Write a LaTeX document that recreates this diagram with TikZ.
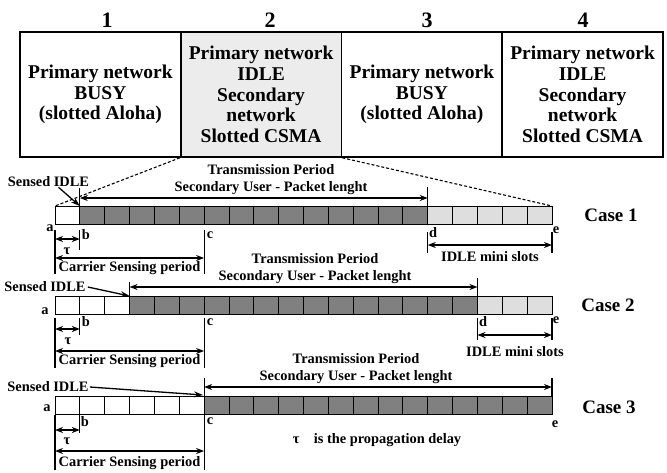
\documentclass[tikz,border=0pt]{standalone}
\usepackage{fontspec}
\setmainfont{Liberation Serif}
\usetikzlibrary{arrows.meta}
\definecolor{slotdark}{RGB}{128,128,128}
\definecolor{slotlight}{RGB}{222,222,222}
\definecolor{idlefill}{RGB}{236,236,236}
\newcommand\slotrun[4]{\foreach \i in {#2,...,#3}{\draw[#4] ({55+\i*24.85},#1) rectangle ++(24.85,18);}}
\begin{document}
\begin{tikzpicture}[x=1pt,y=-1pt,
  txt/.style={font=\bfseries\fontsize{14.4}{17}\selectfont, inner sep=0pt},
  big/.style={font=\bfseries\fontsize{19.5}{20.7}\selectfont, align=center, inner sep=0pt},
  num/.style={font=\bfseries\fontsize{22}{24}\selectfont, inner sep=0pt},
  casel/.style={font=\bfseries\fontsize{19}{22}\selectfont, inner sep=0pt},
  netbox/.style={draw, line width=1.6pt, minimum width=160.75pt, minimum height=125pt},
  slotw/.style={draw, line width=0.9pt, fill=white},
  slotg/.style={draw, line width=0.9pt, fill=slotdark},
  slotl/.style={draw, line width=0.9pt, fill=slotlight},
  tick/.style={line width=1.2pt},
  dashline/.style={line width=1.1pt, dash pattern=on 3pt off 2pt},
  tip/.style={Stealth[length=9pt,width=6pt]},
  arr/.style={line width=1.3pt, -{Stealth[length=9pt,width=6pt]}},
  darr/.style={line width=1.3pt, {Stealth[length=8pt,width=6pt]}-{Stealth[length=8pt,width=6pt]}},
]
\useasboundingbox (0,0) rectangle (667,472);

% ---- network state boxes ----
\node[netbox, big] (p1) at (100.4,94.5) {Primary network\\BUSY\\(slotted Aloha)};
\node[netbox, big, fill=idlefill] (p2) at (261.1,94.5) {Primary network\\IDLE\\Secondary\\network\\Slotted CSMA};
\node[netbox, big] (p3) at (421.9,94.5) {Primary network\\BUSY\\(slotted Aloha)};
\node[netbox, big] (p4) at (582.6,94.5) {Primary network\\IDLE\\Secondary\\network\\Slotted CSMA};
\node[num] (k1) at (107,20) {1};
\node[num] (k2) at (270,20) {2};
\node[num] (k3) at (427,20) {3};
\node[num] (k4) at (583,20) {4};

% ---- slot rows ----
\slotrun{206}{0}{0}{slotw}
\slotrun{206}{1}{14}{slotg}
\slotrun{206}{15}{19}{slotl}
\slotrun{296}{0}{2}{slotw}
\slotrun{296}{3}{16}{slotg}
\slotrun{296}{17}{19}{slotl}
\slotrun{396}{0}{5}{slotw}
\slotrun{396}{6}{19}{slotg}

% ---- zoom lines from the idle period ----
\coordinate (r1tl) at (55,206);
\coordinate (r1tr) at (552,206);
\draw[dashline] (p2.south west) -- (r1tl);
\draw[dashline] (p2.south east) -- (r1tr);

% ================= Case 1 =================
\node[casel] (case1) at (611,215) {Case 1};
\node[txt] (si1) at (48.5,182) {Sensed IDLE};
\coordinate (g1top) at (79.85,206);
\draw[arr] ([xshift=10pt]si1.south) -- (g1top);
\draw[tick] (79.85,188) -- (79.85,206);
\draw[tick] (427.75,187) -- (427.75,206);
\coordinate (t1l) at (79.85,198);
\coordinate (t1r) at (427.75,198);
\draw[darr] (t1l) -- (t1r);
\node[txt, align=center] (tp1) at (271,179.5) {Transmission Period\\Secondary User - Packet lenght};

\node[txt] (la1) at (50,228) {a};
\node[txt] (lb1) at (86,235) {b};
\node[txt] (lc1) at (210,235) {c};
\draw[tick] (55,230) -- (55,274);
\draw[tick] (79.85,230) -- (79.85,250);
\draw[tick] (204.1,230) -- (204.1,274);
\coordinate (u1a) at (55,239);
\coordinate (u1b) at (79.85,239);
\draw[darr] (u1a) -- (u1b);
\node[txt] (tau1) at (67,251) {τ};
\coordinate (cs1a) at (55,258);
\coordinate (cs1c) at (204.1,258);
\draw[darr] (cs1a) -- (cs1c);
\node[txt] (cs1) at (129.5,268) {Carrier Sensing period};

\node[txt] (ld1) at (433,233) {d};
\node[txt] (le1) at (556,230) {e};
\draw[tick] (427.75,232) -- (427.75,253);
\draw[tick] (552,232) -- (552,253);
\coordinate (m1d) at (427.75,245);
\coordinate (m1e) at (552,245);
\draw[darr] (m1d) -- (m1e);
\node[txt] (im1) at (490,257) {IDLE mini slots};

% ================= Case 2 =================
\node[casel] (case2) at (608,305) {Case 2};
\node[txt] (si2) at (45,287) {Sensed IDLE};
\coordinate (g2top) at (129.55,296);
\draw[arr] ([xshift=2pt]si2.east) -- (g2top);
\draw[tick] (129.55,282) -- (129.55,296);
\draw[tick] (477.45,278) -- (477.45,296);
\coordinate (t2l) at (129.55,287);
\coordinate (t2r) at (477.45,287);
\draw[darr] (t2l) -- (t2r);
\node[txt, align=center] (tp2) at (315,268.5) {Transmission Period\\Secondary User - Packet lenght};

\node[txt] (la2) at (45,311) {a};
\node[txt] (lb2) at (86,322) {b};
\node[txt] (lc2) at (210,322) {c};
\draw[tick] (55,318) -- (55,368);
\draw[tick] (79.85,318) -- (79.85,335);
\draw[tick] (204.1,318) -- (204.1,368);
\coordinate (u2a) at (55,329);
\coordinate (u2b) at (79.85,329);
\draw[darr] (u2a) -- (u2b);
\node[txt] (tau2) at (68,341) {τ};
\coordinate (cs2a) at (55,351);
\coordinate (cs2c) at (204.1,351);
\draw[darr] (cs2a) -- (cs2c);
\node[txt] (cs2) at (129.5,361) {Carrier Sensing period};

\node[txt] (ld2) at (483,322) {d};
\node[txt] (le2) at (556,320) {e};
\draw[tick] (477.45,318) -- (477.45,340);
\draw[tick] (552,318) -- (552,340);
\coordinate (m2d) at (477.45,335);
\coordinate (m2e) at (552,335);
\draw[darr] (m2d) -- (m2e);
\node[txt] (im2) at (515,352) {IDLE mini slots};

% ================= Case 3 =================
\node[casel] (case3) at (609,407) {Case 3};
\node[txt] (si3) at (48,387) {Sensed IDLE};
\coordinate (g3top) at (203,395);
\draw[arr] ([xshift=1pt]si3.east) -- (g3top);
\draw[tick] (204.1,378) -- (204.1,396);
\draw[tick] (552,378) -- (552,396);
\coordinate (t3l) at (204.1,387);
\coordinate (t3r) at (552,387);
\draw[darr] (t3l) -- (t3r);
\node[txt, align=center] (tp3) at (356,369) {Transmission Period\\Secondary User - Packet lenght};

\node[txt] (la3) at (47,408) {a};
\node[txt] (lb3) at (85,422) {b};
\node[txt] (lc3) at (210,421) {c};
\node[txt] (le3) at (555,424) {e};
\draw[tick] (55,415) -- (55,470);
\draw[tick] (79.85,415) -- (79.85,433);
\draw[tick] (204.1,415) -- (204.1,470);
\coordinate (u3a) at (55,430);
\coordinate (u3b) at (79.85,430);
\draw[darr] (u3a) -- (u3b);
\node[txt] (tau3) at (67,441) {τ};
\coordinate (cs3a) at (55,451);
\coordinate (cs3c) at (204.1,451);
\draw[darr] (cs3a) -- (cs3c);
\node[txt] (cs3) at (129.5,463) {Carrier Sensing period};
\node[txt] (note) at (377,440) {τ\quad is the propagation delay};
\end{tikzpicture}
\end{document}
